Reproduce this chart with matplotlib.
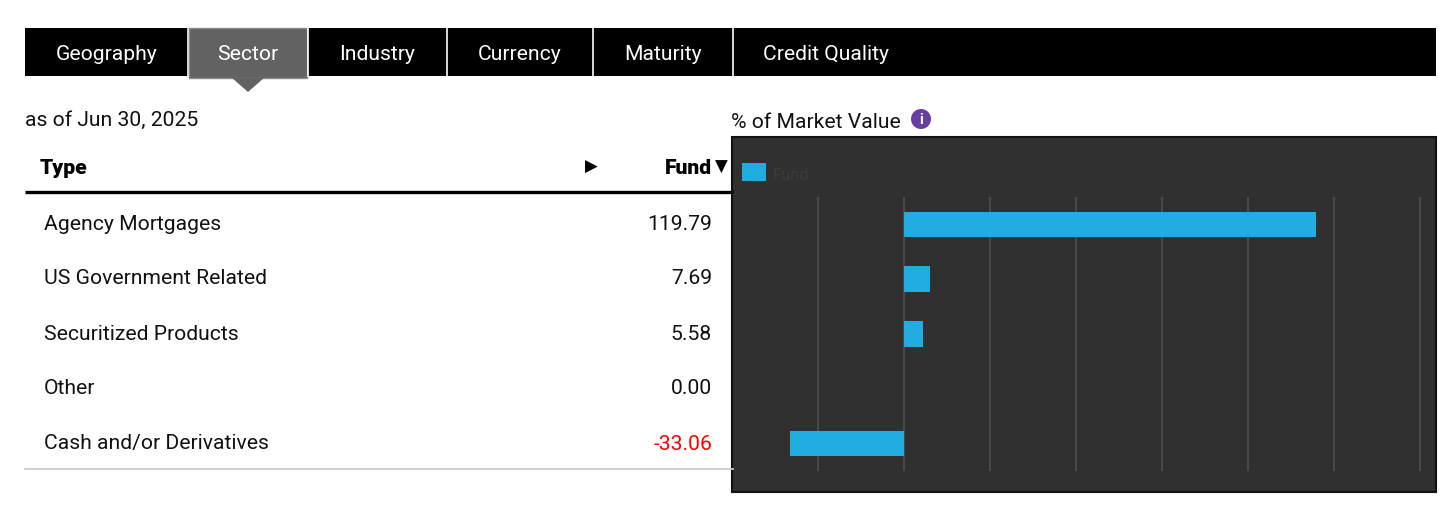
import matplotlib.pyplot as plt
from matplotlib.patches import Rectangle, Polygon, Circle

plt.rcParams['font.family'] = ['Roboto', 'DejaVu Sans']

# data
tabs = ['Geography', 'Sector', 'Industry', 'Currency', 'Maturity', 'Credit Quality']
active_tab = 'Sector'
sectors = ['Agency Mortgages', 'US Government Related', 'Securitized Products',
           'Other', 'Cash and/or Derivatives']
fund = [119.79, 7.69, 5.58, 0.00, -33.06]
as_of = 'as of Jun 30, 2025'

W, H = 1456, 505
FS = 15.2
dy = 2  # text sits a touch low in the reference
fig = plt.figure(figsize=(W / 100, H / 100), dpi=100)
fig.patch.set_facecolor('white')

# full-figure axes in pixel units for the page furniture
base = fig.add_axes([0, 0, 1, 1])
base.set_xlim(0, W)
base.set_ylim(H, 0)
base.axis('off')

# tab strip
tab_edges = [25, 188, 308, 447, 593, 733, 1436]
base.add_patch(Rectangle((25, 28), 1411, 48, facecolor='black', edgecolor='none'))
for i, name in enumerate(tabs):
    x0, x1 = tab_edges[i], tab_edges[i + 1]
    if name == active_tab:
        base.add_patch(Rectangle((x0 + 1, 28), x1 - x0 - 2, 50, facecolor='#626262',
                                 edgecolor='#8a8a8a', lw=1))
        cx = (x0 + x1) / 2
        base.add_patch(Polygon([(cx - 16, 78), (cx + 16, 78), (cx, 92)],
                               closed=True, facecolor='#626262', edgecolor='none'))
    if i > 0:
        base.plot([x0, x0], [28, 76], color='white', lw=1.2)
    if name == 'Credit Quality':
        base.text(x0 + 30, 53 + dy, name, color='white', fontsize=FS, ha='left', va='center')
    else:
        base.text((x0 + x1) / 2, 53 + dy, name, color='white', fontsize=FS,
                  ha='center', va='center')

# table on the left
base.text(25, 118 + dy, as_of, fontsize=FS, ha='left', va='center', color='#111111')
base.text(40, 167 + dy, 'Type', fontsize=FS, fontweight='heavy', ha='left', va='center')
base.text(591, 167, '\u25b6', fontsize=12, ha='center', va='center', family='DejaVu Sans')
base.text(712, 167 + dy, 'Fund', fontsize=FS, fontweight='heavy', ha='right', va='center')
base.text(721, 167, '\u25bc', fontsize=12, ha='center', va='center', family='DejaVu Sans')
base.plot([25, 733], [192, 192], color='black', lw=2.4, solid_capstyle='butt')
for i, (name, val) in enumerate(zip(sectors, fund)):
    y = 222 + i * 55 + dy
    base.text(44, y, name, fontsize=FS, ha='left', va='center', color='#111111')
    base.text(712, y, f'{val:.2f}', fontsize=FS, ha='right', va='center',
              color='red' if val < 0 else '#111111')
base.plot([25, 733], [469, 469], color='#cccccc', lw=1.3)

# chart header
base.text(731, 121 + dy, '% of Market Value', fontsize=FS, ha='left', va='center',
          color='#111111')
base.add_patch(Circle((921, 119), 10, facecolor='#6a3da3', edgecolor='none'))
base.text(921, 119.5, 'i', fontsize=11, fontweight='bold', color='white',
          ha='center', va='center')

# dark chart panel
base.add_patch(Rectangle((732, 137), 704, 355, facecolor='#303030',
                         edgecolor='#111111', lw=1.5))
base.add_patch(Rectangle((742, 163), 24, 18, facecolor='#21ade0', edgecolor='none'))
base.text(773, 173 + dy, 'Fund', fontsize=12, color='#3b3b3b', ha='left', va='center')

# bar chart axes
x_l, x_r, y_t, y_b = 733, 1435, 197, 471
ax = fig.add_axes([x_l / W, 1 - y_b / H, (x_r - x_l) / W, (y_b - y_t) / H])
ax.set_facecolor('none')
zero_px, px_per_unit = 904, 3.44
ax.set_xlim((x_l - zero_px) / px_per_unit, (x_r - zero_px) / px_per_unit)
ax.set_ylim(len(sectors) - 0.5, -0.5)
ax.set_xticks(range(-25, 151, 25))
ax.grid(True, axis='x', color='#4a4a4a', lw=1.4)
ax.set_axisbelow(True)
ax.barh(range(len(sectors)), fund, height=0.47, color='#21ade0', edgecolor='none')
ax.tick_params(left=False, bottom=False, labelleft=False, labelbottom=False)
for s in ax.spines.values():
    s.set_visible(False)

fig.savefig('out.png', dpi=100, facecolor='white')
